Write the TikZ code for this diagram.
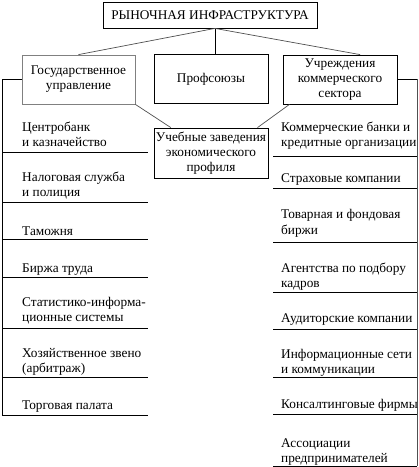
\documentclass[tikz,border=0pt]{standalone}
\usepackage{fontspec}
\setmainfont{Liberation Serif}
\newfontfamily\tnr{Liberation Serif}
\usetikzlibrary{calc}
\definecolor{boxgray}{HTML}{808080}
\definecolor{linkgray}{HTML}{505050}
\begin{document}
\begin{tikzpicture}[x=1bp,y=-1bp,
  every node/.style={font=\tnr\fontsize{13.3bp}{15bp}\selectfont},
  box/.style={draw=black, line width=0.8bp, align=center, inner sep=0pt},
  graybox/.style={box, draw=boxgray},
  link/.style={draw=linkgray, line width=0.7bp},
  rule/.style={draw=black, line width=0.9bp},
  item/.style={anchor=base west, inner sep=0pt, align=left}]
\useasboundingbox (0,0) rectangle (418,467);
\fill[white] (0,0) rectangle (418,467);

% boxes
\node[box, minimum width=214bp, minimum height=26bp] (top) at (210,15) {РЫНОЧНАЯ ИНФРАСТРУКТУРА};
\node[graybox, minimum width=113bp, minimum height=49bp] (gov) at (78.5,79.5) {Государственное\\управление};
\node[box, minimum width=114bp, minimum height=49bp] (prof) at (211,79) {Профсоюзы};
\node[box, minimum width=114bp, minimum height=49bp] (comm) at (340,79.5) {Учреждения\\коммерческого\\сектора};
\node[box, minimum width=114bp, minimum height=50bp] (edu) at (211,153) {Учебные заведения\\экономического\\профиля};

% connectors
\coordinate (hub) at ($(top.south west)!0.523!(top.south east)$);
\draw[link] (hub) -- (gov.north);
\draw[rule, line width=0.8bp] (hub) -- (hub |- prof.north);
\draw[link] (hub) -- ($(comm.north west)!0.675!(comm.north east)$);
\draw[link] (gov.south east) -- ($(edu.north west)!0.15!(edu.north east)$);
\draw[link] ($(comm.south west)!0.06!(comm.south east)$) -- ($(edu.north west)!0.905!(edu.north east)$);

% left bracket
\coordinate (Lx) at (2,0);
\coordinate (Le) at (148,0);
\coordinate (Lbot) at (2,415);
\draw[rule] (gov.west) -- (gov.west -| Lx) -- (Lbot);
\foreach \y in {152,202,239,277,328,377,415}{
  \draw[rule] (Lx |- 0,\y) -- (Le |- 0,\y);
}
% right bracket
\coordinate (Rx) at (417,0);
\coordinate (Rs) at (273,0);
\coordinate (Rbot) at (417,466);
\draw[rule] (comm.east) -- (comm.east -| Rx);
\draw[rule, draw=linkgray] (comm.east -| Rx) -- (Rbot);
\foreach \y in {156,188,242,292,329,377,414,466}{
  \draw[rule] (Rs |- 0,\y) -- (Rx |- 0,\y);
}

% left items (anchored at last baseline)
\node[item] (l1) at (22,147) {Центробанк\\и казначейство};
\node[item] (l2) at (22,197) {Налоговая служба\\и полиция};
\node[item] (l3) at (22,235) {Таможня};
\node[item] (l4) at (22,272) {Биржа труда};
\node[item] (l5) at (22,321) {Статистико-информа-\\ционные системы};
\node[item] (l6) at (22,372) {Хозяйственное звено\\(арбитраж)};
\node[item] (l7) at (22,409) {Торговая палата};

% right items
\node[item] (r1) at (281,147) {Коммерческие банки и\\кредитные организации};
\node[item] (r2) at (281,183) {Страховые компании};
\node[item] (r3) at (281,234) {Товарная и фондовая\\биржи};
\node[item] (r4) at (281,287) {Агентства по подбору\\кадров};
\node[item] (r5) at (281,322) {Аудиторские компании};
\node[item] (r6) at (281,373) {Информационные сети\\и коммуникации};
\node[item] (r7) at (281,408) {Консалтинговые фирмы};
\node[item] (r8) at (281,462) {Ассоциации\\предпринимателей};
\end{tikzpicture}
\end{document}
